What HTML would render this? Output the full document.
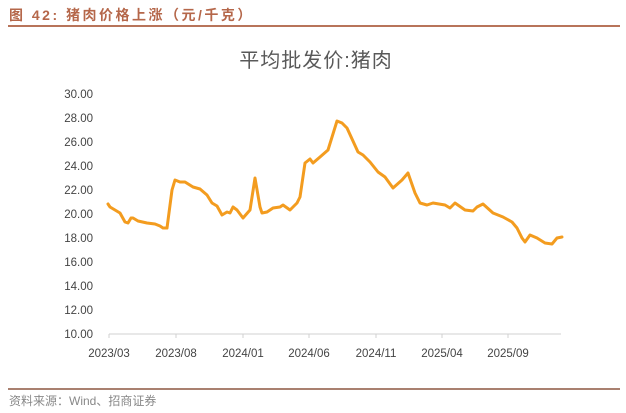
<!DOCTYPE html>
<html><head><meta charset="utf-8"><style>
html,body{margin:0;padding:0;background:#fff;}
body{width:626px;height:413px;overflow:hidden;position:relative;}
</style></head><body>
<svg width="626" height="413" viewBox="0 0 626 413" xmlns="http://www.w3.org/2000/svg" style="position:absolute;left:0;top:0">
<text x="9" y="20" font-family="Liberation Sans, Noto Sans CJK SC, sans-serif" font-size="14" font-weight="bold" fill="#b5674a" letter-spacing="2.5">图 42:  猪肉价格上涨（元/千克）</text>
<rect x="8" y="25" width="612" height="2" fill="#b8745a"/>
<text x="316" y="67" text-anchor="middle" font-family="Liberation Sans, Noto Sans CJK SC, sans-serif" font-size="20" fill="#595959" letter-spacing="1">平均批发价:猪肉</text>
<g font-family="Liberation Sans, sans-serif" font-size="11.5" fill="#444" text-anchor="end">
<text x="93" y="98">30.00</text><text x="93" y="122">28.00</text><text x="93" y="146">26.00</text><text x="93" y="170">24.00</text><text x="93" y="194">22.00</text><text x="93" y="218">20.00</text><text x="93" y="242">18.00</text><text x="93" y="266">16.00</text><text x="93" y="290">14.00</text><text x="93" y="314">12.00</text><text x="93" y="338">10.00</text>
</g>
<line x1="109" y1="334" x2="561" y2="334" stroke="#d0d0d0" stroke-width="1"/>
<g stroke="#d0d0d0"><line x1="109" y1="334" x2="109" y2="338"/><line x1="176" y1="334" x2="176" y2="338"/><line x1="243" y1="334" x2="243" y2="338"/><line x1="309" y1="334" x2="309" y2="338"/><line x1="376" y1="334" x2="376" y2="338"/><line x1="442" y1="334" x2="442" y2="338"/><line x1="508" y1="334" x2="508" y2="338"/></g>
<g font-family="Liberation Sans, sans-serif" font-size="11.5" fill="#444" text-anchor="middle">
<text x="109" y="357">2023/03</text><text x="176" y="357">2023/08</text><text x="243" y="357">2024/01</text><text x="309" y="357">2024/06</text><text x="376" y="357">2024/11</text><text x="442" y="357">2025/04</text><text x="508" y="357">2025/09</text>
</g>
<polyline fill="none" stroke="#f39c1f" stroke-width="3" stroke-linejoin="round" stroke-linecap="round" points="108,204 110,207 115,210 120,213 125,222 128,223 131,218 133,218 138,221 147,223 155,224 160,226 163,228 167,228 172,190 175,180 180,182 185,182 193,187 200,189 207,195 212,203 217,206 222,215 227,212 230,213 233,207 237,210 243,218 250,210 255,178 260,207 262,213 267,212 273,208 280,207 283,205 290,210 297,203 300,197 305,163 310,159 313,163 320,157 328,150 337,121 342,123 347,128 358,152 363,155 370,162 378,172 385,177 393,188 402,180 408,173 415,193 420,203 427,205 433,203 445,205 450,208 455,203 465,210 473,211 477,207 483,204 493,213 503,217 512,222 517,228 522,238 525,242 530,235 537,238 545,243 552,244 557,238 562,237"/>
<rect x="8" y="388" width="612" height="2" fill="#a98070"/>
<text x="9" y="405" font-family="Liberation Sans, Noto Sans CJK SC, sans-serif" font-size="12" fill="#888">资料来源：Wind、招商证券</text>
</svg>
</body></html>
